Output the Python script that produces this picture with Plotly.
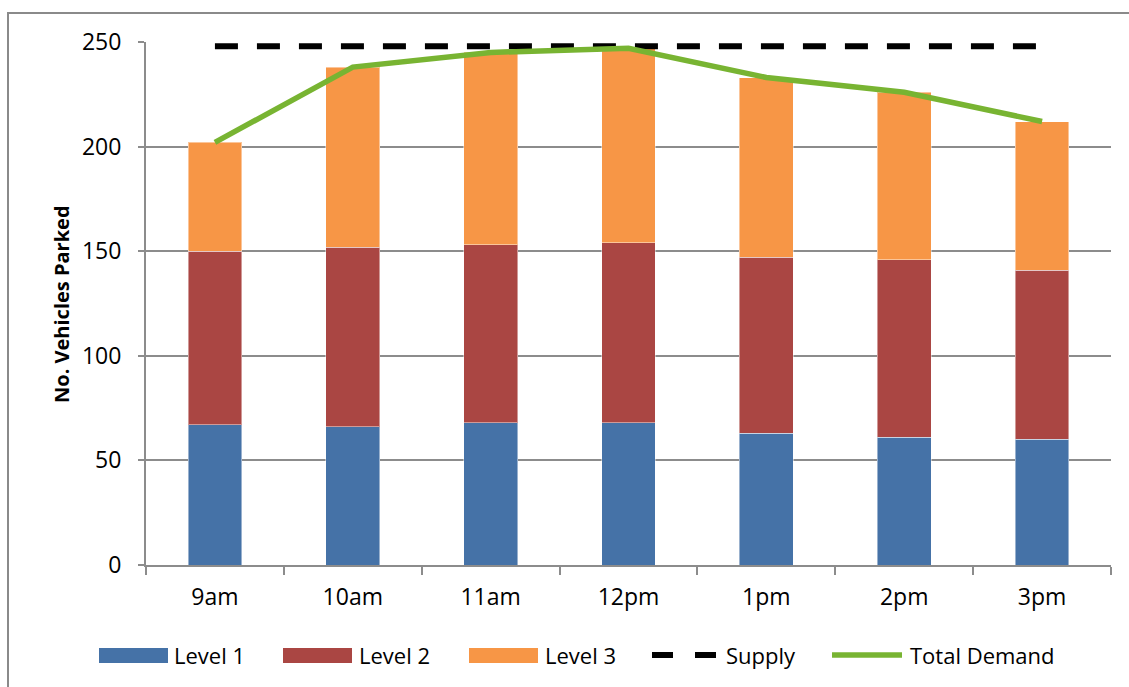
import plotly.graph_objects as go

# Hourly parked-vehicle counts by level
times = ["9am", "10am", "11am", "12pm", "1pm", "2pm", "3pm"]
level1 = [67, 66, 68, 68, 63, 61, 60]
level2 = [83, 86, 85, 86, 84, 85, 81]
level3 = [52, 86, 92, 93, 86, 80, 71]
supply = [248, 248, 248, 248, 248, 248, 248]
total_demand = [a + b + c for a, b, c in zip(level1, level2, level3)]

y_ticks = [0, 50, 100, 150, 200, 250]

C_L1 = "#4572A7"
C_L2 = "#AA4643"
C_L3 = "#F79646"
C_SUP = "#000000"
C_TOT = "#78B432"
GRID = "#8C8C8C"
FONT = "Open Sans"

W, H = 1129, 687
L, R, T, B = 146, 18, 42, 122
PW, PH = W - L - R, H - T - B


def px_x(px):
    return (px - L) / PW


def px_y(py):
    return (H - B - py) / PH


fig = go.Figure()
bar_line = dict(color="rgba(255,255,255,0.45)", width=1)
fig.add_trace(go.Bar(x=times, y=level1, name="Level 1", marker=dict(color=C_L1, line=bar_line)))
fig.add_trace(go.Bar(x=times, y=level2, name="Level 2", marker=dict(color=C_L2, line=bar_line)))
fig.add_trace(go.Bar(x=times, y=level3, name="Level 3", marker=dict(color=C_L3, line=bar_line)))
fig.add_trace(go.Scatter(x=times, y=supply, name="Supply", mode="lines",
                         line=dict(color=C_SUP, width=6, dash="23px,19px")))
fig.add_trace(go.Scatter(x=times, y=total_demand, name="Total Demand", mode="lines",
                         line=dict(color=C_TOT, width=5.5)))

shapes = []
annotations = []

# outer chart frame
shapes.append(dict(type="rect", xref="paper", yref="paper",
                   x0=px_x(8), x1=px_x(1140), y0=px_y(700), y1=px_y(13),
                   line=dict(color="#8A8A8A", width=2), fillcolor="rgba(0,0,0,0)", layer="below"))

# legend entries
leg_y = 655
legend_items = [
    ("rect", C_L1, 99, 168, "Level 1", 172),
    ("rect", C_L2, 283, 352, "Level 2", 357),
    ("rect", C_L3, 469, 538, "Level 3", 543),
    ("dash", C_SUP, 652, 716, "Supply", 724),
    ("line", C_TOT, 832, 902, "Total Demand", 908),
]
for kind, color, x0, x1, label, tx in legend_items:
    if kind == "rect":
        shapes.append(dict(type="rect", xref="paper", yref="paper",
                           x0=px_x(x0), x1=px_x(x1), y0=px_y(leg_y + 8), y1=px_y(leg_y - 7),
                           line=dict(width=0), fillcolor=color))
    elif kind == "dash":
        shapes.append(dict(type="line", xref="paper", yref="paper",
                           x0=px_x(x0), x1=px_x(x1), y0=px_y(leg_y), y1=px_y(leg_y),
                           line=dict(color=color, width=6, dash="21px,22px")))
    else:
        shapes.append(dict(type="line", xref="paper", yref="paper",
                           x0=px_x(x0), x1=px_x(x1), y0=px_y(leg_y), y1=px_y(leg_y),
                           line=dict(color=color, width=5.5)))
    annotations.append(dict(text=label, xref="paper", yref="paper",
                            x=px_x(tx), y=px_y(leg_y), xanchor="left", yanchor="middle",
                            showarrow=False, font=dict(family=FONT, size=22, color="#000000")))

# y-axis title
annotations.append(dict(text="<b>No. Vehicles Parked</b>", xref="paper", yref="paper",
                        x=px_x(61), y=px_y(304), xanchor="center", yanchor="middle",
                        textangle=-90, showarrow=False,
                        font=dict(family=FONT, size=20, color="#000000")))

fig.update_layout(
    width=W, height=H,
    margin=dict(l=L, r=R, t=T, b=B, pad=0),
    barmode="stack",
    bargap=0.61,
    showlegend=False,
    plot_bgcolor="white",
    paper_bgcolor="white",
    font=dict(family=FONT, size=23, color="#000000"),
    shapes=shapes,
    annotations=annotations,
    xaxis=dict(
        type="category",
        showline=True, linecolor=GRID, linewidth=2,
        ticks="outside", tickson="boundaries", ticklen=8, tickwidth=2, tickcolor=GRID,
        ticklabelstandoff=10,
        showgrid=False, zeroline=False,
        tickfont=dict(family=FONT, size=23),
    ),
    yaxis=dict(
        range=[0, 250],
        tickvals=y_ticks,
        showline=True, linecolor=GRID, linewidth=2,
        ticks="outside", ticklen=6, tickwidth=2, tickcolor=GRID,
        ticklabelstandoff=12,
        showgrid=True, gridcolor=GRID, gridwidth=1.5,
        zeroline=False,
        tickfont=dict(family=FONT, size=23),
    ),
)

fig.write_html("out.html")
